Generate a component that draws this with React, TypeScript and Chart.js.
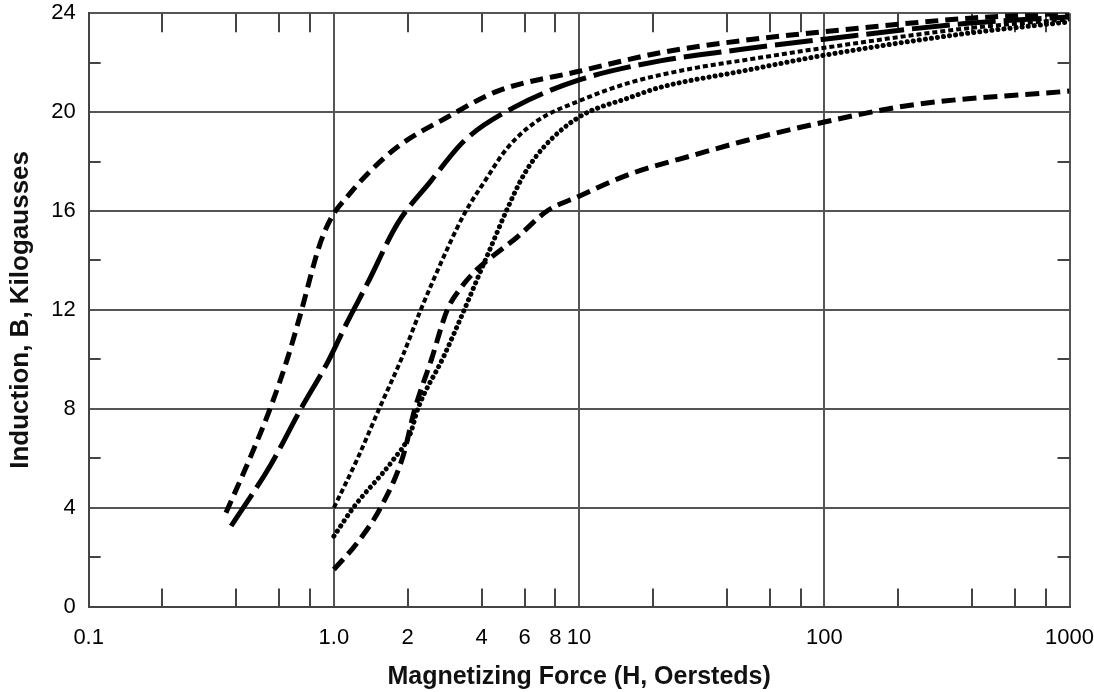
import React, { useEffect, useRef } from 'react';
import { Chart, registerables } from 'chart.js';

Chart.register(...registerables);

// Axis ticks
const xTickValues = [0.1, 0.2, 0.4, 0.6, 0.8, 1, 2, 4, 6, 8, 10, 20, 40, 60, 80, 100, 200, 400, 600, 800, 1000];
const xMajorValues = [0.1, 1, 10, 100, 1000];
const xLabelValues = [0.1, 1, 2, 4, 6, 8, 10, 100, 1000];
const xLabelTexts = ['0.1', '1.0', '2', '4', '6', '8', '10', '100', '1000'];
const yTickValues = [0, 2, 4, 6, 8, 10, 12, 14, 16, 18, 20, 22, 24];
const yLabelValues = [0, 4, 8, 12, 16, 20, 24];

// Curve A – short dashes (top-left)
const curveA_H = [0.363, 0.45, 0.549, 0.65, 0.734, 0.86, 0.92, 1.0, 1.15, 1.34, 1.82, 2.91, 4.65, 10, 21.4, 47, 100, 392, 1000];
const curveA_B = [3.8, 5.9, 8.0, 10.1, 11.9, 14.4, 15.2, 15.9, 16.65, 17.4, 18.6, 19.8, 20.85, 21.65, 22.4, 22.9, 23.25, 23.8, 24.0];

// Curve B – long dashes
const curveB_H = [0.381, 0.55, 0.734, 0.945, 1.12, 1.375, 1.82, 2.48, 3.41, 5.45, 10, 21.4, 47, 100, 392, 1000];
const curveB_B = [3.26, 5.7, 8.0, 9.9, 11.4, 13.1, 15.5, 17.2, 18.85, 20.2, 21.3, 22.07, 22.55, 22.95, 23.6, 23.85];

// Curve C – fine hatched dashes
const curveC_H = [1.0, 1.25, 1.53, 1.9, 2.26, 2.91, 3.41, 4.12, 5.1, 6.76, 10, 16.2, 30.3, 47, 100, 392, 1000];
const curveC_B = [4.0, 6.0, 8.0, 10.1, 12.0, 14.5, 15.9, 17.2, 18.55, 19.65, 20.45, 21.2, 21.8, 22.1, 22.6, 23.4, 23.75];

// Curve D – dotted
const curveD_H = [1.0, 1.2, 1.75, 2.05, 2.2, 2.8, 3.4, 3.9, 4.35, 5.1, 5.98, 7.2, 10, 16.2, 21.4, 47, 100, 392, 1000];
const curveD_B = [2.85, 4.0, 5.95, 7.0, 8.0, 10.1, 12.0, 13.4, 14.5, 16.1, 17.5, 18.6, 19.8, 20.6, 21.0, 21.67, 22.3, 23.2, 23.65];

// Curve E – medium dashes (lowest at the right)
const curveE_H = [1.0, 1.25, 1.55, 1.91, 2.14, 2.5, 2.9, 3.3, 3.8, 4.35, 5.6, 7.4, 10, 16.2, 30.3, 48, 100, 232, 1000];
const curveE_B = [1.5, 2.6, 4.0, 6.05, 8.0, 10.0, 12.0, 12.9, 13.6, 14.1, 14.95, 16.0, 16.6, 17.5, 18.3, 18.85, 19.6, 20.3, 20.85];

const toPoints = (hs: number[], bs: number[]) => hs.map((h, i) => ({ x: h, y: bs[i] }));

const innerTicks = {
  id: 'innerTicks',
  beforeDatasetsDraw(chart: any) {
    const { ctx, chartArea: a, scales } = chart;
    const x = scales.x;
    const y = scales.y;
    ctx.save();
    ctx.strokeStyle = '#444';
    ctx.lineWidth = 2;
    ctx.beginPath();
    for (const v of xTickValues) {
      if (xMajorValues.includes(v)) continue;
      const px = Math.round(x.getPixelForValue(v));
      ctx.moveTo(px, a.bottom);
      ctx.lineTo(px, a.bottom - 18);
      ctx.moveTo(px, a.top);
      ctx.lineTo(px, a.top + 19);
    }
    for (const v of yTickValues) {
      if (yLabelValues.includes(v)) continue;
      const py = Math.round(y.getPixelForValue(v));
      ctx.moveTo(a.left, py);
      ctx.lineTo(a.left + 12, py);
      ctx.moveTo(a.right, py);
      ctx.lineTo(a.right - 12, py);
    }
    ctx.stroke();
    ctx.restore();
  },
};

export default function App() {
  const canvasRef = useRef<HTMLCanvasElement | null>(null);

  useEffect(() => {
    document.body.style.margin = '0';
    const canvas = canvasRef.current;
    if (!canvas) return;
    const common = { pointRadius: 0, borderColor: '#000', fill: false, cubicInterpolationMode: 'monotone' as const };
    const chart = new Chart(canvas, {
      type: 'line',
      data: {
        datasets: [
          { ...common, label: 'D', data: toPoints(curveD_H, curveD_B), borderWidth: 5, borderDash: [0.1, 6], borderCapStyle: 'round' },
          { ...common, label: 'C', data: toPoints(curveC_H, curveC_B), borderWidth: 4, borderDash: [5, 3] },
          { ...common, label: 'E', data: toPoints(curveE_H, curveE_B), borderWidth: 5, borderDash: [14, 7] },
          { ...common, label: 'B', data: toPoints(curveB_H, curveB_B), borderWidth: 5, borderDash: [38, 8] },
          { ...common, label: 'A', data: toPoints(curveA_H, curveA_B), borderWidth: 5, borderDash: [13, 7] },
        ] as any,
      },
      options: {
        animation: false,
        responsive: false,
        devicePixelRatio: 1,
        parsing: false as any,
        layout: { padding: { top: 0, right: 0, bottom: 0, left: 0 } },
        plugins: { legend: { display: false }, tooltip: { enabled: false } },
        scales: {
          x: {
            type: 'logarithmic',
            min: 0.1,
            max: 1000,
            afterBuildTicks: (scale: any) => {
              scale.ticks = xTickValues.map((v) => ({ value: v }));
            },
            ticks: {
              autoSkip: false,
              maxRotation: 0,
              padding: 0,
              color: '#000',
              font: { family: 'Liberation Sans, Arial, sans-serif', size: 22 },
              callback: (value: any) => {
                const i = xLabelValues.findIndex((v) => Math.abs(v - Number(value)) < 1e-9);
                return i >= 0 ? xLabelTexts[i] : '';
              },
            },
            grid: {
              drawTicks: true,
              tickLength: 18,
              tickColor: 'rgba(0,0,0,0)',
              lineWidth: 2,
              color: (c: any) => (c.tick && xMajorValues.some((v) => Math.abs(v - c.tick.value) < 1e-9) ? '#555' : 'rgba(0,0,0,0)'),
            },
            border: { display: true, color: '#444', width: 2 },
            title: {
              display: true,
              text: 'Magnetizing Force (H, Oersteds)',
              color: '#111',
              font: { family: 'Liberation Sans, Arial, sans-serif', size: 25, weight: 'bold' },
              padding: { top: 11, bottom: 0 },
            },
          },
          y: {
            type: 'linear',
            min: 0,
            max: 24,
            afterBuildTicks: (scale: any) => {
              scale.ticks = yTickValues.map((v) => ({ value: v }));
            },
            ticks: {
              autoSkip: false,
              padding: 0,
              color: '#000',
              font: { family: 'Liberation Sans, Arial, sans-serif', size: 22 },
              callback: (value: any) => (yLabelValues.includes(Number(value)) ? String(value) : ''),
            },
            grid: {
              drawTicks: true,
              tickLength: 13,
              tickColor: 'rgba(0,0,0,0)',
              lineWidth: 2,
              color: (c: any) => (c.tick && yLabelValues.includes(c.tick.value) ? '#555' : 'rgba(0,0,0,0)'),
            },
            border: { display: true, color: '#444', width: 2 },
            title: {
              display: true,
              text: 'Induction, B, Kilogausses',
              color: '#111',
              font: { family: 'Liberation Sans, Arial, sans-serif', size: 26, weight: 'bold' },
              padding: { top: 5, bottom: 15 },
            },
          },
        },
      },
      plugins: [innerTicks],
    });
    return () => chart.destroy();
  }, []);

  return (
    <div style={{ width: 1094, height: 692, position: 'relative' }}>
      <canvas ref={canvasRef} width={1094} height={692} style={{ display: 'block' }} />
    </div>
  );
}
